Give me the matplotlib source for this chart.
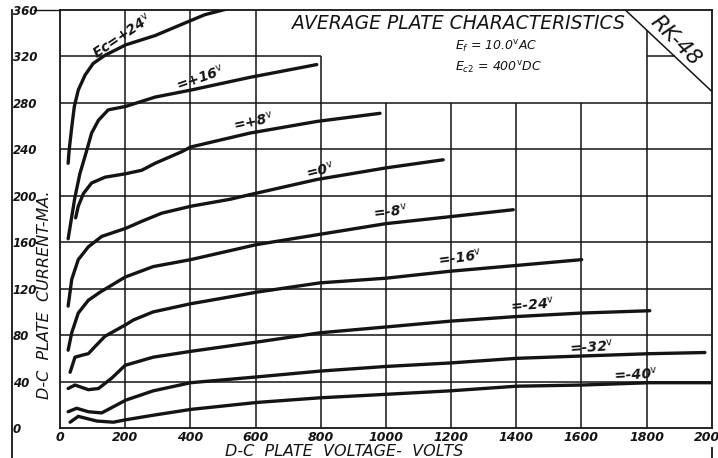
import matplotlib
matplotlib.use('Agg')
import matplotlib.pyplot as plt
from matplotlib.lines import Line2D

# plate volts / plate mA, one pair per grid bias
ec24_v = [25, 28, 36, 44, 56, 77, 102, 138, 202, 292, 402, 445, 528]
ec24_i = [228, 239, 259, 277, 291, 304, 314, 321, 330, 338, 351, 356, 362]
ec16_v = [25, 36, 46, 61, 82, 97, 118, 148, 202, 292, 401, 583, 788]
ec16_i = [163, 182, 199, 219, 239, 254, 265, 274, 277, 285, 291, 302, 313]
ec8_v = [48, 56, 72, 97, 138, 202, 251, 292, 374, 401, 583, 788, 982]
ec8_i = [181, 191, 202, 211, 216, 219, 222, 228, 238, 242, 254, 264, 271]
ec0_v = [25, 36, 56, 87, 128, 202, 251, 312, 402, 522, 583, 788, 1000, 1176]
ec0_i = [105, 128, 145, 156, 165, 172, 178, 185, 191, 197, 201, 214, 224, 231]
ecm8_v = [25, 36, 56, 87, 123, 200, 286, 401, 604, 868, 1000, 1197, 1391]
ecm8_i = [67, 82, 99, 110, 117, 130, 139, 145, 158, 170, 176, 182, 188]
ecm16_v = [31, 46, 72, 87, 107, 138, 202, 225, 286, 401, 604, 798, 1000, 1197, 1401, 1601]
ecm16_i = [48, 61, 63, 64, 70, 79, 89, 93, 100, 107, 117, 125, 129, 135, 140, 145]
ecm24_v = [25, 46, 87, 118, 159, 200, 286, 401, 604, 798, 1000, 1197, 1401, 1601, 1810]
ecm24_i = [34, 37, 33, 34, 43, 54, 61, 66, 74, 82, 87, 92, 96, 99, 101]
ecm32_v = [25, 51, 87, 128, 202, 286, 401, 604, 798, 1000, 1197, 1401, 1601, 1810, 1979]
ecm32_i = [14, 17, 14, 13, 24, 32, 39, 44, 49, 53, 56, 60, 62, 64, 65]
ecm40_v = [31, 56, 113, 164, 200, 286, 401, 604, 798, 1000, 1197, 1401, 1601, 1810, 2000]
ecm40_i = [5, 10, 6, 5, 7, 11, 16, 22, 26, 29, 32, 36, 37, 39, 39]

curve_names = ['Ec=+24', '=+16', '=+8', '=0', '=-8', '=-16', '=-24', '=-32', '=-40']
x_ticks = [0, 200, 400, 600, 800, 1000, 1200, 1400, 1600, 1800, 2000]
y_ticks = [0, 40, 80, 120, 160, 200, 240, 280, 320, 360]

ink = '#141414'
curves = [(ec24_v, ec24_i), (ec16_v, ec16_i), (ec8_v, ec8_i), (ec0_v, ec0_i),
          (ecm8_v, ecm8_i), (ecm16_v, ecm16_i), (ecm24_v, ecm24_i),
          (ecm32_v, ecm32_i), (ecm40_v, ecm40_i)]

fig = plt.figure(figsize=(7.18, 4.58), dpi=100)
ax = fig.add_axes([60/718, 30/458, 651.7/718, 418/458])
ax.set_xlim(0, 2000)
ax.set_ylim(0, 360)

# grid, with the blank title panel and corner cut left out
gk = dict(color=ink, lw=1.1, zorder=1)
ax.hlines([40, 80, 120, 160, 200, 240, 280], 0, 2000, **gk)
ax.hlines(320, 0, 800, **gk)
ax.hlines(320, 1800, 1886, **gk)
ax.vlines([200, 400, 600], 0, 360, **gk)
ax.vlines(800, 0, 320, **gk)
ax.vlines([1000, 1200, 1400, 1600], 0, 280, **gk)
ax.vlines(1800, 0, 343, **gk)
ax.plot([1735, 2000], [360, 290], color=ink, lw=1.1)
ax.plot([-80, 0], [360, 360], color=ink, lw=1.0, clip_on=False)
for s in ax.spines.values():
    s.set_color(ink)
    s.set_linewidth(1.3)

for v, i in curves:
    ax.plot(v, i, color=ink, lw=2.4, solid_capstyle='round', solid_joinstyle='round', zorder=3)

# curve labels (centre volts, centre mA, angle)
lab_pos = [(190, 338, 34), (432, 302, 19), (592, 264, 12), (800, 222, 14), (1013, 186, 7),
           (1227, 147, 8), (1451, 106, 5), (1632, 70, 4), (1767, 46, 3)]
for name, (x, y, r) in zip(curve_names, lab_pos):
    ax.text(x, y, name + r'$^{\mathsf{v}}$', ha='center', va='center', rotation=r,
            fontsize=10, style='italic', fontweight='bold', color=ink,
            rotation_mode='anchor', zorder=4)

ax.text(1224, 348, 'AVERAGE PLATE CHARACTERISTICS', ha='center', va='center',
        fontsize=13.5, style='italic', fontweight='medium', color=ink)
ax.text(1212, 328, r'$E_f$ = 10.0$^{\mathsf{v}}$AC', ha='left', va='center',
        fontsize=9, style='italic', color=ink)
ax.text(1212, 310, r'$E_{c2}$ = 400$^{\mathsf{v}}$DC', ha='left', va='center',
        fontsize=9, style='italic', color=ink)
ax.text(1888, 334, 'RK-48', ha='center', va='center', rotation=-45,
        fontsize=15.5, style='italic', color=ink)

ax.set_xticks(x_ticks)
ax.set_xticklabels([str(t) for t in x_ticks], fontsize=9, style='italic', fontweight='bold')
ax.set_yticks(y_ticks)
ax.set_yticklabels([str(t) for t in y_ticks], fontsize=8.5, style='italic', fontweight='bold')
ax.tick_params(axis='x', length=0, pad=2.5, colors=ink)
ax.tick_params(axis='y', length=0, pad=34, colors=ink)
for lbl in ax.get_yticklabels():
    lbl.set_horizontalalignment('left')

fig.text(344/718, 1 - 452/458, 'D-C  PLATE  VOLTAGE-  VOLTS', ha='center', va='center',
         fontsize=11.5, style='italic', color=ink)
fig.text(45/718, 1 - 295/458, 'D-C  PLATE  CURRENT-MA.', ha='center', va='center',
         rotation=90, fontsize=11.5, style='italic', color=ink)

# scan frame line on the far left and the stub under the last label
fig.add_artist(Line2D([12/718, 12/718], [0, 1 - 10/458], color=ink, lw=1.3))
fig.add_artist(Line2D([711.7/718, 711.7/718], [0, 10/458], color=ink, lw=1.3))

fig.savefig('out.png', dpi=100)
